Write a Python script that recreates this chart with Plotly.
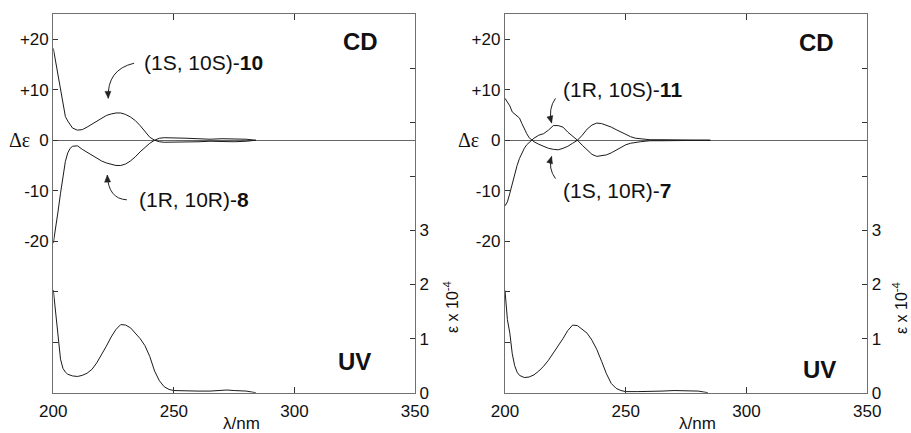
import plotly.graph_objects as go

# ---------------- data ----------------
wl_cd_left = [200,201,202,203,204,205,206,207,208,210,212,214,216,218,220,222,224,226,228,230,
              232,234,236,238,240,242,244,246,250,255,260,265,270,275,280,284]
cd_10 = [18.2,15.5,12.8,10.0,7.3,4.7,3.8,3.0,2.4,2.0,2.1,2.6,3.2,3.8,4.4,4.9,5.2,5.4,5.4,5.1,
         4.6,3.9,2.9,1.7,0.6,0.0,0.4,0.5,0.5,0.4,0.3,0.2,0.3,0.3,0.2,0.0]
cd_8 = [-20.4,-17.5,-14.0,-10.5,-7.0,-4.2,-2.5,-1.6,-1.2,-1.1,-1.8,-2.4,-3.0,-3.5,-4.1,-4.5,-4.8,-5.0,-5.0,-4.7,
        -4.1,-3.3,-2.3,-1.4,-0.6,0.0,-0.3,-0.4,-0.4,-0.3,-0.3,-0.2,-0.3,-0.3,-0.2,0.0]

wl_uv = [200,201,202,203,204,205,206,208,210,212,214,216,218,220,222,224,226,228,230,232,234,236,238,240,
         242,244,246,248,250,255,260,265,270,272,275,280,284]
uv_left = [1.90,1.45,1.00,0.62,0.45,0.38,0.34,0.31,0.30,0.32,0.36,0.43,0.55,0.70,0.86,1.03,1.17,1.26,1.25,
           1.20,1.10,1.00,0.87,0.67,0.40,0.22,0.11,0.06,0.04,0.03,0.03,0.03,0.04,0.05,0.04,0.03,0.00]
uv_right = [1.89,1.35,1.10,0.72,0.50,0.38,0.32,0.28,0.29,0.33,0.40,0.49,0.60,0.73,0.87,1.00,1.15,1.25,1.24,
            1.17,1.10,0.97,0.80,0.58,0.35,0.17,0.08,0.04,0.02,0.02,0.02,0.03,0.04,0.04,0.03,0.03,0.00]

wl_cd_right = [200,201,202,203,204,205,206,207,208,209,210,211,212,214,216,218,220,222,224,226,228,230,
               232,234,236,238,240,242,244,246,248,250,252,254,256,258,260,265,270,275,280,285]
cd_7 = [8.3,7.6,6.8,5.6,5.2,4.9,4.4,3.3,2.2,1.3,0.5,0.0,-0.3,-0.8,-1.2,-1.6,-1.8,-1.9,-1.6,-1.2,-0.6,0.0,
        1.0,2.2,3.0,3.4,3.3,3.0,2.6,2.1,1.6,1.1,0.7,0.4,0.3,0.2,0.1,0.1,0.1,0.1,0.1,0.0]
cd_11 = [-13.0,-12.2,-10.5,-8.5,-6.6,-5.0,-3.6,-2.5,-1.6,-0.9,-0.4,0.0,0.4,1.0,1.3,2.0,2.9,2.9,2.6,1.6,0.8,0.0,
         -1.0,-2.0,-2.8,-3.2,-3.1,-2.9,-2.5,-2.0,-1.5,-0.9,-0.6,-0.4,-0.3,-0.2,-0.1,-0.1,-0.1,-0.1,-0.1,0.0]

x_ticks = [200, 250, 300, 350]
cd_ticks = [-40, -30, -20, -10, 0, 10, 20]
cd_ticktext = ["", "", "-20", "-10", "0", "+10", "+20"]
uv_ticks = [0, 1, 2, 3, 4, 5, 6]
uv_ticktext = ["0", "1", "2", "3", "", "", ""]

# ---------------- figure ----------------
W, H = 911, 433
FONT = "Liberation Sans, Arial, Helvetica, sans-serif"
LINE = "#1a1a1a"
AX = "#707070"
X_RANGE = [200, 350]
CD_RANGE = [-50, 25]
UV_RANGE = [0, 7]

fig = go.Figure()

def add_line(x, y, xa, ya):
    fig.add_trace(go.Scatter(x=x, y=y, mode="lines", xaxis=xa, yaxis=ya,
                             line=dict(color=LINE, width=1), showlegend=False, hoverinfo="skip"))

add_line(wl_cd_left, cd_10, "x", "y")
add_line(wl_cd_left, cd_8, "x", "y")
add_line(wl_uv, uv_left, "x", "y2")
add_line(wl_cd_right, cd_7, "x2", "y3")
add_line(wl_cd_right, cd_11, "x2", "y3")
add_line(wl_uv, uv_right, "x2", "y4")

ydom = [1 - 392.7 / H, 1 - 14 / H]
dom_left = [53.3 / W, 415 / W]
dom_right = [505 / W, 867.3 / W]

tickfont = dict(family=FONT, size=17, color="#111")

def xaxis(dom, anchor):
    return dict(domain=dom, anchor=anchor, range=X_RANGE, tickvals=x_ticks, automargin=False,
                ticks="inside", ticklen=6, tickcolor="#333", showline=True, linecolor=AX,
                linewidth=1.3, mirror="ticks", showgrid=False, zeroline=False,
                ticklabelstandoff=3, tickfont=tickfont, fixedrange=True)

def cdaxis(anchor):
    return dict(domain=ydom, anchor=anchor, range=CD_RANGE, tickvals=cd_ticks, ticktext=cd_ticktext,
                automargin=False,
                ticks="inside", ticklen=5, tickcolor="#333", showline=True, linecolor=AX, linewidth=1.3,
                showgrid=False, zeroline=True, zerolinecolor="#666", zerolinewidth=1,
                tickfont=tickfont, fixedrange=True)

def uvaxis(overlay, anchor):
    return dict(overlaying=overlay, anchor=anchor, side="right", range=UV_RANGE, tickvals=uv_ticks,
                ticktext=uv_ticktext, ticks="inside", ticklen=5, tickcolor="#333", showline=True,
                automargin=False,
                linecolor=AX, linewidth=1.3, showgrid=False, zeroline=False, tickfont=tickfont,
                fixedrange=True)

fig.update_layout(
    width=W, height=H, margin=dict(l=0, r=0, t=0, b=0, autoexpand=False),
    paper_bgcolor="white", plot_bgcolor="white",
    xaxis=xaxis(dom_left, "y"),
    yaxis=cdaxis("x"),
    yaxis2=uvaxis("y", "x"),
    xaxis2=xaxis(dom_right, "y3"),
    yaxis3=cdaxis("x2"),
    yaxis4=uvaxis("y3", "x2"),
)

ann = []
lab = dict(family=FONT, size=21, color="#111")
big = dict(family=FONT, size=24, color="#111")

def text(x, y, s, xref, yref, font, xanchor="left", **kw):
    ann.append(dict(x=x, y=y, xref=xref, yref=yref, text=s, showarrow=False,
                    xanchor=xanchor, yanchor="middle", font=font, **kw))

# compound labels
text(236.8, 15.3, "(1S, 10S)-<b>10</b>", "x", "y", lab)
text(234.6, -11.8, "(1R, 10R)-<b>8</b>", "x", "y", lab)
text(223.0, 10.0, "(1R, 10S)-<b>11</b>", "x2", "y3", lab)
text(223.0, -10.0, "(1S, 10R)-<b>7</b>", "x2", "y3", lab)
# CD / UV
text(327.2, 19.5, "<b>CD</b>", "x", "y", big, xanchor="center")
text(329.0, 19.4, "<b>CD</b>", "x2", "y3", big, xanchor="center")
text(325.0, 0.575, "<b>UV</b>", "x", "y2", big, xanchor="center")
text(330.4, 0.42, "<b>UV</b>", "x2", "y4", big, xanchor="center")

# axis titles
de_font = dict(family="Liberation Serif, DejaVu Serif, serif", size=20, color="#111")
text(19.7 / W, 0, "Δε", "paper", "y", de_font, xanchor="center")
text(468 / W, 0, "Δε", "paper", "y3", de_font, xanchor="center")
tfont = dict(family=FONT, size=17, color="#111")
text(241 / W, 1 - 423 / H, "λ/nm", "paper", "paper", tfont, xanchor="center")
text(697 / W, 1 - 423 / H, "λ/nm", "paper", "paper", tfont, xanchor="center")
efont = dict(family=FONT, size=16, color="#111")
text(451 / W, 1 - 307 / H, "ε x 10<sup>-4</sup>", "paper", "paper", efont, xanchor="center", textangle=-90)
text(900 / W, 1 - 308 / H, "ε x 10<sup>-4</sup>", "paper", "paper", efont, xanchor="center", textangle=-90)

# curved arrows: (start, control, end) in data coords
arrows = [
    ("x", "y", dom_left, (233.5, 15.25), (222.2, 14.0), (222.8, 8.3)),
    ("x", "y", dom_left, (230.5, -11.8), (222.8, -11.6), (222.4, -6.9)),
    ("x2", "y3", dom_right, (220.9, 8.3), (217.8, 6.2), (219.3, 3.4)),
    ("x2", "y3", dom_right, (220.9, -7.6), (217.8, -5.6), (219.3, -3.2)),
]
py_h = (ydom[1] - ydom[0]) * H
shapes = []
for xr, yr, dom, s, c, e in arrows:
    sx = (dom[1] - dom[0]) * W / (X_RANGE[1] - X_RANGE[0])   # px per nm
    sy = py_h / (CD_RANGE[1] - CD_RANGE[0])                   # px per unit
    shapes.append(dict(type="path", xref=xr, yref=yr,
                       path=f"M {s[0]},{s[1]} Q {c[0]},{c[1]} {e[0]},{e[1]}",
                       line=dict(color="#222", width=1)))
    dx = (e[0] - c[0]) * sx
    dy = -(e[1] - c[1]) * sy
    n = (dx * dx + dy * dy) ** 0.5
    ux, uy = dx / n, dy / n
    L, Wd = 7.0, 3.0
    bx, by = -ux * L, -uy * L
    p1 = (bx - uy * Wd, by + ux * Wd)
    p2 = (bx + uy * Wd, by - ux * Wd)
    def todata(p):
        return (e[0] + p[0] / sx, e[1] - p[1] / sy)
    a, b = todata(p1), todata(p2)
    shapes.append(dict(type="path", xref=xr, yref=yr,
                       path=f"M {e[0]},{e[1]} L {a[0]},{a[1]} L {b[0]},{b[1]} Z",
                       fillcolor="#222", line=dict(color="#222", width=0.5)))

fig.update_layout(annotations=ann, shapes=shapes)
fig.write_html("out.html", config={"displayModeBar": False},
               post_script="document.body.style.margin='0';document.body.style.overflow='hidden';")
